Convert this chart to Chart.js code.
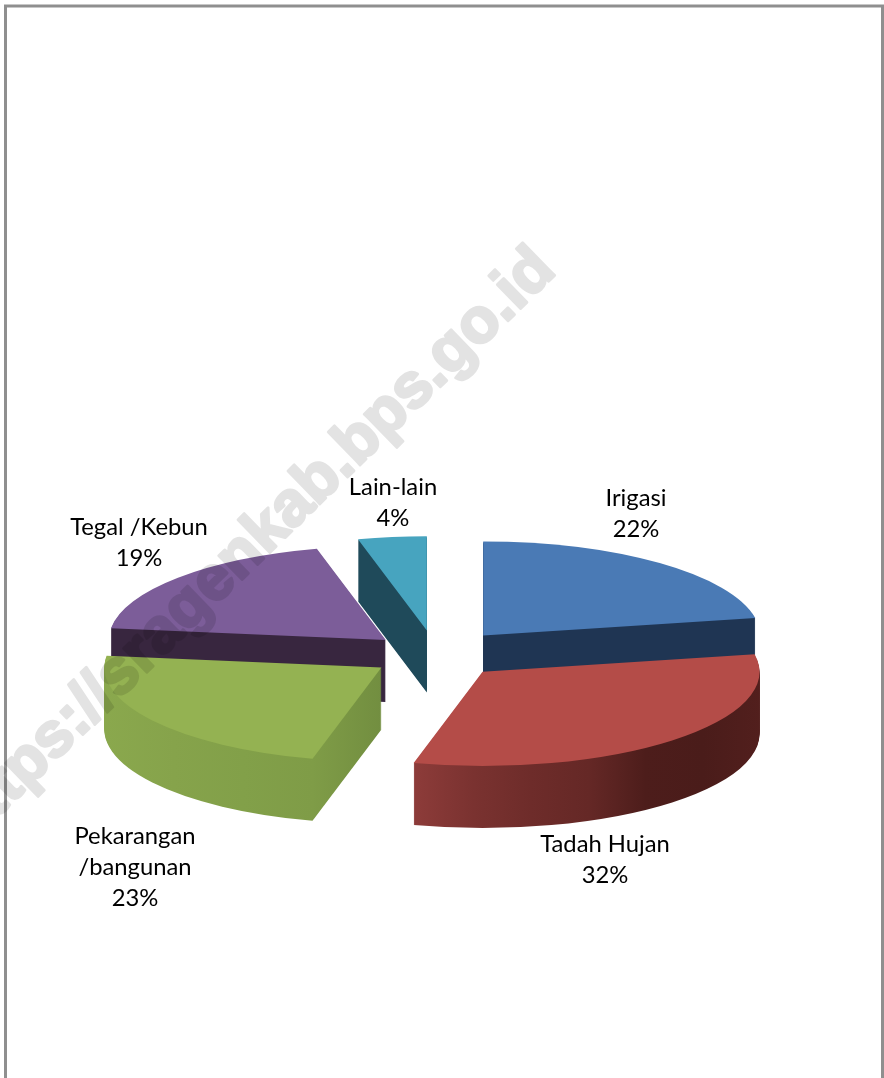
<!DOCTYPE html>
<html>
<head>
<meta charset="utf-8">
<title>Luas lahan</title>
<script src="https://cdn.jsdelivr.net/npm/chart.js"></script>
<style>
  html, body { margin: 0; padding: 0; background: #fff; }
  canvas { display: block; }
</style>
</head>
<body>
<canvas id="myChart" width="884" height="1078"></canvas>
<script>
// Setup
const categories = ['Irigasi', 'Tadah Hujan', 'Pekarangan /bangunan', 'Tegal /Kebun', 'Lain-lain'];
const percentages = [22, 32, 23, 19, 4];

const topColors = ['#4a7ab5', '#b44c48', '#94b252', '#7c5d99', '#47a4bf'];
// wall colour stops, left to right across the visible part of the slice
const wallColors = [
  ['#1f3553', '#1f3553'],
  ['#8c3b39', '#7a3230', '#6e2c2a', '#652826', '#4d1d1b', '#4a1c1a', '#521f1d'],
  ['#8aa84d', '#86a34b', '#82a049', '#7f9c47', '#728e40'],
  ['#38263f', '#38263f'],
  ['#1f4a5a', '#1f4a5a']
];
const wallSpans = [[483, 755], [417, 760], [105, 382], [114, 386], [357, 430]];

// Drawing settings
const tilt = 0.34;
const depth = 62;
const explode = [74, 68, 66, 67, 73];
const paintOrder = [4, 3, 0, 2, 1];
const labelLines = [['Irigasi'], ['Tadah Hujan'], ['Pekarangan', '/bangunan'], ['Tegal /Kebun'], ['Lain-lain']];
const labelSpots = [[636, 498], [605, 844], [135, 836], [139, 527], [393, 487]];

function paintArc(arc, ctx, fill) {
  const saved = arc.options;
  arc.options = Object.assign({}, saved, { backgroundColor: fill });
  arc.draw(ctx);
  arc.options = saved;
}

const pie3d = {
  id: 'pie3d',
  beforeDraw(chart) {
    const ctx = chart.ctx;
    ctx.save();
    ctx.strokeStyle = '#8f8f8f';
    ctx.lineWidth = 3;
    ctx.strokeRect(5.5, 6, 877, 1200);
    ctx.restore();
  },
  // replaces the normal flat drawing
  beforeDatasetsDraw(chart) {
    const ctx = chart.ctx;
    const arcs = chart.getDatasetMeta(0).data;
    paintOrder.forEach(i => {
      const arc = arcs[i];
      const mid = (arc.startAngle + arc.endAngle) / 2;
      const dx = Math.cos(mid) * explode[i];
      const dy = Math.sin(mid) * explode[i] * tilt;
      const grad = ctx.createLinearGradient(wallSpans[i][0] - dx, 0, wallSpans[i][1] - dx, 0);
      const stops = wallColors[i];
      stops.forEach((c, n) => grad.addColorStop(n / (stops.length - 1), c));
      for (let d = depth; d >= 0; d--) {
        ctx.save();
        ctx.translate(dx, arc.y + dy + d);
        ctx.scale(1, tilt);
        ctx.translate(0, -arc.y);
        paintArc(arc, ctx, d === 0 ? topColors[i] : grad);
        ctx.restore();
      }
    });
    return false;
  },
  afterDraw(chart) {
    const ctx = chart.ctx;
    ctx.save();
    ctx.fillStyle = '#000';
    ctx.font = '23.8px Lato';
    ctx.textAlign = 'center';
    ctx.textBaseline = 'middle';
    categories.forEach((c, i) => {
      const lines = labelLines[i].concat(percentages[i] + '%');
      lines.forEach((t, n) => ctx.fillText(t, labelSpots[i][0], labelSpots[i][1] + n * 31));
    });
    ctx.restore();

    // watermark: stroked and filled on a spare canvas so the overlap is not darker
    const mark = document.createElement('canvas');
    mark.width = chart.width;
    mark.height = chart.height;
    const m = mark.getContext('2d');
    m.translate(-32, 846);
    m.rotate(-44.2 * Math.PI / 180);
    m.fillStyle = m.strokeStyle = '#000';
    m.lineWidth = 3;
    m.lineJoin = 'round';
    m.font = 'bold 63px "Liberation Sans"';
    m.fillText('https://sragenkab.bps.go.id', 0, 0);
    m.strokeText('https://sragenkab.bps.go.id', 0, 0);
    ctx.save();
    ctx.globalAlpha = 0.11;
    ctx.drawImage(mark, 0, 0);
    ctx.restore();
  }
};

// Config
const config = {
  type: 'pie',
  data: {
    labels: categories,
    datasets: [{
      data: percentages,
      backgroundColor: topColors,
      borderWidth: 0
    }]
  },
  options: {
    responsive: false,
    animation: false,
    layout: { padding: { top: 378, bottom: 146, left: 159, right: 171 } },
    plugins: { legend: { display: false }, tooltip: { enabled: false } }
  },
  plugins: [pie3d]
};

const myChart = new Chart(document.getElementById('myChart'), config);
</script>
</body>
</html>
